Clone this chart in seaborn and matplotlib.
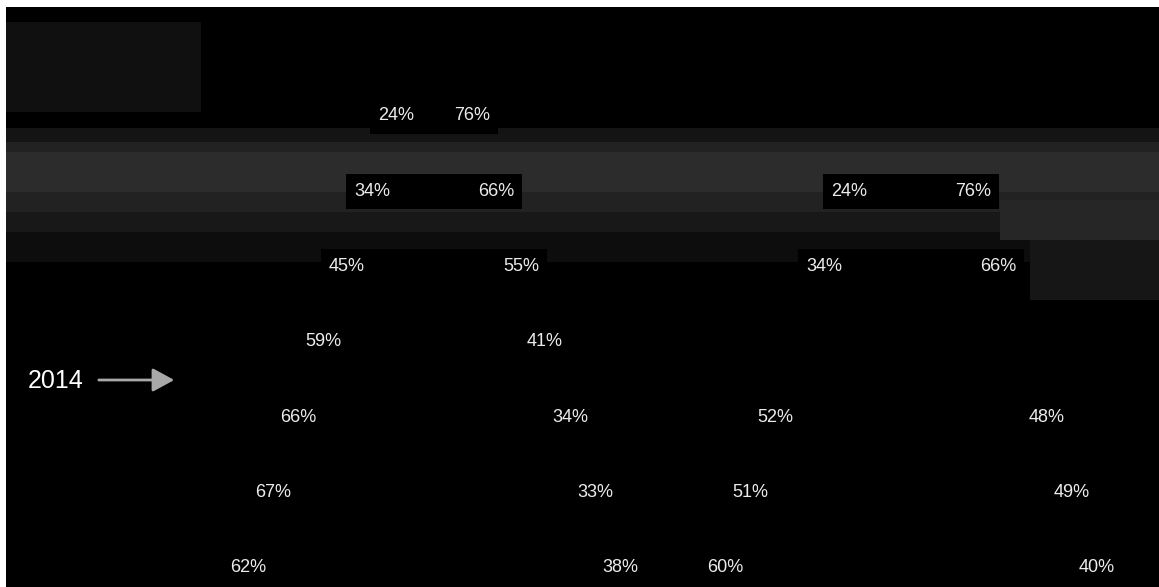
import numpy as np
import pandas as pd
import matplotlib
matplotlib.use("Agg")
import matplotlib.pyplot as plt
import seaborn as sns

# ---------------- data ----------------
rows = ["r1", "r2", "r3", "r4", "r5", "r6", "r7"]
# full width of each funnel bar (same scale for both panels)
funnel_width = [128, 176, 226, 274, 324, 374, 424]

left_first = [24, 34, 45, 59, 66, 67, 62]
left_second = [76, 66, 55, 41, 34, 33, 38]

right_first = [np.nan, 24, 34, np.nan, 52, 51, 60]
right_second = [np.nan, 76, 66, np.nan, 48, 49, 40]

marker_label = "2014"

# ---------------- styling ----------------
sns.set_theme(style="white")
plt.rcParams["font.family"] = ["Liberation Sans Narrow", "Liberation Sans", "DejaVu Sans"]

W, H = 1159, 587
fig = plt.figure(figsize=(W / 100, H / 100), dpi=100, facecolor="white")

# background (black panel with grey scan haze)
bg = fig.add_axes([6 / W, 0, (W - 6) / W, (H - 7) / H])
bg.set_facecolor("black")
bg.set_xlim(6, W)
bg.set_ylim(H, 7)
bg.axis("off")
bg.add_patch(plt.Rectangle((6, 7), W, H, color="black", zorder=0))
bg.add_patch(plt.Rectangle((6, 22), 195, 90, color="#101010", lw=0, zorder=1))
for y0, y1, c in [(128, 142, "#141414"), (142, 152, "#222222"), (152, 192, "#2c2c2c"),
                  (192, 212, "#222222"), (212, 232, "#181818"), (232, 262, "#0d0d0d")]:
    bg.add_patch(plt.Rectangle((6, y0), W, y1 - y0, color=c, lw=0, zorder=1))
# extra haze on the far right
bg.add_patch(plt.Rectangle((1000, 200), W - 1000, 40, color="#262626", lw=0, zorder=1))
bg.add_patch(plt.Rectangle((1030, 240), W - 1030, 60, color="#161616", lw=0, zorder=1))

bg.text(28, 381, marker_label, color="white", fontsize=18, va="center", ha="left",
        family=["Liberation Sans", "DejaVu Sans"], zorder=3)
bg.annotate("", xy=(177, 380), xytext=(96, 380),
            arrowprops=dict(arrowstyle="-|>,head_length=1.1,head_width=0.6",
                            color="#a8a8a8", lw=2), zorder=3)

# row geometry: row i centred at pixel 116 + 75.3*i
row_top_px, row_step = 116.0, 75.3
ylim = ((H - row_top_px) / row_step, (7 - row_top_px) / row_step)


def draw_panel(rect, first, second):
    ax = fig.add_axes(rect)
    ax.patch.set_alpha(0)
    half = [w / 2 if not (np.isnan(a)) else np.nan
            for w, a in zip(funnel_width, first)]
    df = pd.DataFrame({"row": rows,
                       "neg": [-h for h in half],
                       "pos": half})
    df = df.dropna()
    for col in ["neg", "pos"]:
        sns.barplot(data=df, x=col, y="row", order=rows, orient="h",
                    color="black", linewidth=0,
                    width=0.47, ax=ax, saturation=1, zorder=2)
    for i, (a, b, h) in enumerate(zip(first, second, half)):
        if np.isnan(a):
            continue
        ax.text(-h + 8, i, f"{a:.0f}%", color="#ececec", fontsize=13,
                ha="left", va="center", zorder=4)
        ax.text(h - 8, i, f"{b:.0f}%", color="#ececec", fontsize=13,
                ha="right", va="center", zorder=4)
    ax.set_xlim(-238, 238)
    ax.set_ylim(*ylim)
    ax.axis("off")
    return ax


draw_panel([196 / W, 0, 476 / W, (H - 7) / H], left_first, left_second)
draw_panel([673 / W, 0, 476 / W, (H - 7) / H], right_first, right_second)

fig.savefig("out.png", dpi=100, facecolor="white")
